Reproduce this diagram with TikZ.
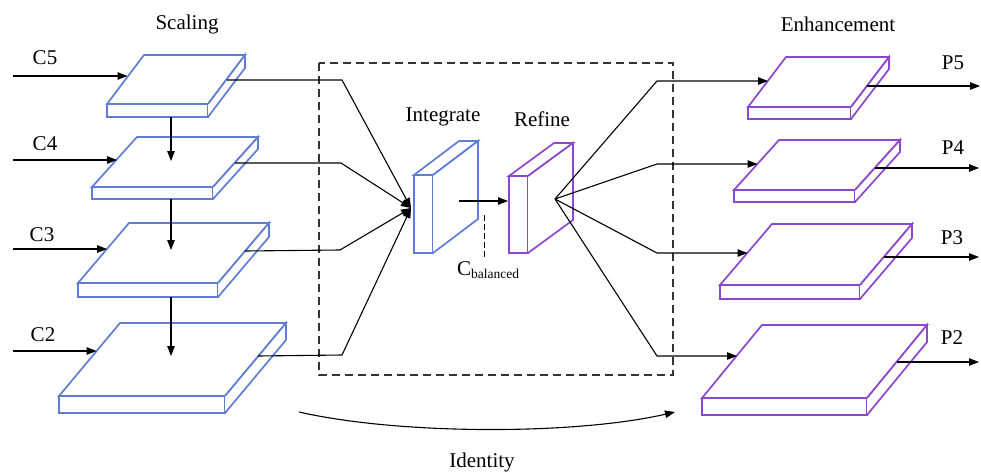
\documentclass[tikz,border=0pt]{standalone}
\usepackage{fontspec}
\setmainfont{Liberation Serif}
\usetikzlibrary{arrows.meta,calc}

\definecolor{slabblue}{RGB}{95,125,215}
\definecolor{slabpurple}{RGB}{140,70,210}

% A flat box seen from above: front face top-left corner (#2,#3),
% width #4, thickness #5, depth offset (#6,#7), drawing style #8.
\newcommand{\flatbox}[8]{%
  \coordinate (#1-a) at (#2,#3);
  \coordinate (#1-b) at ($(#2,#3)+(#4,0)$);
  \coordinate (#1-c) at ($(#2,#3)+(#4,#5)$);
  \draw[#8] (#1-a) -- ++(#6,#7) -- ++(#4,0) -- (#1-b) -- cycle;
  \draw[#8] (#1-a) rectangle (#1-c);
  \draw[#8] (#1-b) -- ++(#6,#7) -- ++(0,#5) -- (#1-c);
}

\tikzset{
  blueedge/.style={draw=slabblue, line width=1.7pt, line join=miter, fill=white},
  purpleedge/.style={draw=slabpurple, line width=1.7pt, line join=miter, fill=white},
  link/.style={line width=1.1pt, black},
  arrowlink/.style={link, -{Triangle[length=10pt,width=7.5pt]}},
  lbl/.style={font=\fontsize{21}{25}\selectfont, inner sep=0pt},
  framebox/.style={line width=1.1pt, dash pattern=on 8pt off 5pt, black!80},
}

\begin{document}
\begin{tikzpicture}[x=1pt,y=-1pt]
\useasboundingbox (0,0) rectangle (981,471);

% ---------- dashed frame around the fusion stage ----------
\draw[framebox] (319,63) rectangle (673,375);

% ---------- scaling column (blue) ----------
\flatbox{s5}{107}{104}{101}{13}{37}{-49}{blueedge}
\flatbox{s4}{92}{187}{121}{12}{45}{-50}{blueedge}
\flatbox{s3}{78}{283}{140}{14}{51}{-60}{blueedge}
\flatbox{s2}{59}{396}{166}{17}{61}{-73}{blueedge}

% ---------- enhancement column (purple) ----------
\flatbox{p5}{748}{107}{103}{12}{38}{-50}{purpleedge}
\flatbox{p4}{734}{190}{121}{12}{45}{-50}{purpleedge}
\flatbox{p3}{720}{285}{140}{14}{52}{-61}{purpleedge}
\flatbox{p2}{702}{398}{165}{17}{60}{-73}{purpleedge}

% ---------- integrate and refine blocks ----------
\flatbox{ig}{414}{175}{19}{78}{45}{-34}{blueedge}
\flatbox{rf}{509}{176}{19}{77}{45}{-33}{purpleedge}

% ---------- labels ----------
\node[lbl] (tscale) at (187,24) {Scaling};
\node[lbl] (tenh) at (838,24) {Enhancement};
\node[lbl] (tint) at (443,117) {Integrate};
\node[lbl] (tref) at (542,119) {Refine};
\node[lbl] (tid) at (482,462) {Identity};
\node[lbl] (lc5) at (45,58) {C5};
\node[lbl] (lc4) at (45,144) {C4};
\node[lbl] (lc3) at (42,235) {C3};
\node[lbl] (lc2) at (43,335) {C2};
\node[lbl] (lp5) at (953,63) {P5};
\node[lbl] (lp4) at (953,148) {P4};
\node[lbl] (lp3) at (952,238) {P3};
\node[lbl] (lp2) at (952,338) {P2};
\node[lbl, anchor=west] (tbal) at (457,270)
  {C\raisebox{-0.25ex}{\fontsize{13.5}{15}\selectfont balanced}};

% ---------- named end points ----------
\coordinate (c5s) at (13,76);   \coordinate (c5e) at (127.5,76);
\coordinate (c4s) at (13,160);  \coordinate (c4e) at (117,160);
\coordinate (c3s) at (13,249);  \coordinate (c3e) at (107,249);
\coordinate (c2s) at (13,351);  \coordinate (c2e) at (96.5,351);

\coordinate (d54s) at (171,117); \coordinate (d54e) at (171,161);
\coordinate (d43s) at (171,199); \coordinate (d43e) at (171,250);
\coordinate (d32s) at (171,297); \coordinate (d32e) at (171,356);

\coordinate (o5) at (227,80);  \coordinate (k5) at (342,80);
\coordinate (o4) at (235,163); \coordinate (k4) at (341,163);
\coordinate (o3) at (245,251); \coordinate (k3) at (340,250);
\coordinate (o2) at (258,356); \coordinate (k2) at (342,355);
\coordinate (merge) at (411,208);

\coordinate (igout) at (459,201); \coordinate (rfin) at (508,201);
\coordinate (balA) at (484,215); \coordinate (balB) at (484,257);

\coordinate (split) at (555,199);
\coordinate (q5) at (657,81);  \coordinate (i5) at (768,81);
\coordinate (q4) at (657,164); \coordinate (i4) at (757.5,164);
\coordinate (q3) at (657,253); \coordinate (i3) at (747.5,253);
\coordinate (q2) at (657,356); \coordinate (i2) at (737,356);

\coordinate (r5) at (867,86);  \coordinate (e5) at (980,86);
\coordinate (r4) at (875,168); \coordinate (e4) at (979,168);
\coordinate (r3) at (884,257); \coordinate (e3) at (979,257);
\coordinate (r2) at (897,362); \coordinate (e2) at (979,362);

\coordinate (ids) at (299,412); \coordinate (ide) at (675,412);

% ---------- connectors ----------
\draw[arrowlink] (c5s) -- (c5e);
\draw[arrowlink] (c4s) -- (c4e);
\draw[arrowlink] (c3s) -- (c3e);
\draw[arrowlink] (c2s) -- (c2e);

\draw[arrowlink] (d54s) -- (d54e);
\draw[arrowlink] (d43s) -- (d43e);
\draw[arrowlink] (d32s) -- (d32e);

\draw[arrowlink] (o5) -- (k5) -- (merge);
\draw[arrowlink] (o4) -- (k4) -- (merge);
\draw[arrowlink] (o3) -- (k3) -- (merge);
\draw[arrowlink] (o2) -- (k2) -- (merge);

\draw[arrowlink] (igout) -- (rfin);
\draw[link, dash pattern=on 6pt off 3pt, line width=0.9pt] (balA) -- (balB);

\draw[arrowlink] (split) -- (q5) -- (i5);
\draw[arrowlink] (split) -- (q4) -- (i4);
\draw[arrowlink] (split) -- (q3) -- (i3);
\draw[arrowlink] (split) -- (q2) -- (i2);

\draw[arrowlink] (r5) -- (e5);
\draw[arrowlink] (r4) -- (e4);
\draw[arrowlink] (r3) -- (e3);
\draw[arrowlink] (r2) -- (e2);

\draw[arrowlink] (ids) .. controls (400,435) and (575,435) .. (ide);
\end{tikzpicture}
\end{document}
